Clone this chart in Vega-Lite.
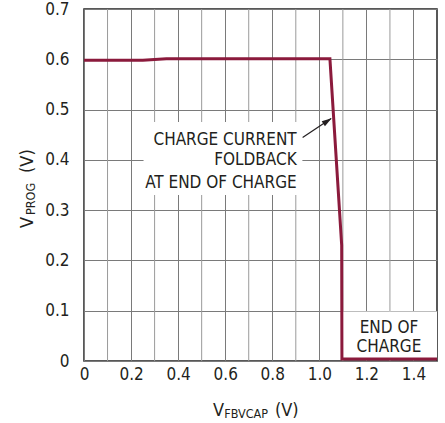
{
  "$schema": "https://vega.github.io/schema/vega-lite/v6.json",
  "width": 353,
  "height": 352,
  "autosize": {"type": "none"},
  "padding": {"left": 84, "top": 9, "right": 8, "bottom": 62},
  "background": "white",
  "config": {
    "view": {"stroke": "#222222", "strokeWidth": 1.5},
    "font": "DejaVu Sans Condensed, sans-serif",
    "text": {"font": "DejaVu Sans Condensed, sans-serif", "color": "#231f20"},
    "axis": {
      "labelFont": "DejaVu Sans Condensed, sans-serif",
      "labelFontSize": 17,
      "labelColor": "#231f20",
      "domain": false,
      "ticks": false,
      "grid": true,
      "gridColor": "#7a7a7a",
      "gridOpacity": 1,
      "gridWidth": 1
    }
  },
  "layer": [
    {
      "data": {"values": [
        {"x": 0.1}, {"x": 0.3}, {"x": 0.5}, {"x": 0.7}, {"x": 0.9}, {"x": 1.1}, {"x": 1.3}
      ]},
      "mark": {"type": "rule", "color": "#9a9a9a", "strokeWidth": 1},
      "encoding": {
        "x": {
          "field": "x", "type": "quantitative", "title": null,
          "scale": {"domain": [0, 1.5], "nice": false, "zero": false},
          "axis": {
            "values": [0, 0.1, 0.2, 0.3, 0.4, 0.5, 0.6, 0.7, 0.8, 0.9, 1.0, 1.1, 1.2, 1.3, 1.4, 1.5],
            "labelExpr": "datum.value == 0 ? '0' : (round(datum.value * 10) % 2 == 0 && datum.value < 1.45 ? format(datum.value, '.1f') : '')",
            "labelPadding": 5,
            "labelFlush": false,
            "labelOverlap": false
          }
        }
      }
    },
    {
      "data": {"values": [
        {"x": 0.253, "x2": 0.928, "y": 0.330, "y2": 0.4755},
        {"x": 1.1, "x2": 1.5, "y": 0.006, "y2": 0.0985}
      ]},
      "mark": {"type": "rect", "fill": "white", "stroke": null},
      "encoding": {
        "x": {"field": "x", "type": "quantitative", "title": null},
        "x2": {"field": "x2"},
        "y": {
          "field": "y", "type": "quantitative", "title": null,
          "scale": {"domain": [0, 0.7], "nice": false, "zero": false},
          "axis": {
            "values": [0, 0.1, 0.2, 0.3, 0.4, 0.5, 0.6, 0.7],
            "labelExpr": "datum.value == 0 ? '0' : format(datum.value, '.1f')",
            "labelPadding": 15,
            "labelFlush": false,
            "labelOverlap": false
          }
        },
        "y2": {"field": "y2"}
      }
    },
    {
      "data": {"values": [
        {"i": 0, "x": 0.0, "y": 0.598},
        {"i": 1, "x": 0.25, "y": 0.598},
        {"i": 2, "x": 0.35, "y": 0.601},
        {"i": 3, "x": 1.045, "y": 0.601},
        {"i": 4, "x": 1.095, "y": 0.23},
        {"i": 5, "x": 1.096, "y": 0.004},
        {"i": 6, "x": 1.5, "y": 0.004}
      ]},
      "mark": {"type": "line", "color": "#8b1a3c", "strokeWidth": 3, "strokeJoin": "miter"},
      "encoding": {
        "x": {"field": "x", "type": "quantitative", "title": null},
        "y": {"field": "y", "type": "quantitative", "title": null},
        "order": {"field": "i"}
      }
    },
    {
      "data": {"values": [
        {"x": 0.929, "y": 0.4445, "x2": 1.05, "y2": 0.482}
      ]},
      "mark": {"type": "rule", "color": "#231f20", "strokeWidth": 1.2},
      "encoding": {
        "x": {"field": "x", "type": "quantitative", "title": null},
        "y": {"field": "y", "type": "quantitative", "title": null},
        "x2": {"field": "x2"},
        "y2": {"field": "y2"}
      }
    },
    {
      "data": {"values": [
        {"x": 1.0347, "y": 0.4773}
      ]},
      "mark": {"type": "point", "shape": "M1,0L-1,-0.6L-1,0.6Z", "filled": true, "color": "#231f20", "opacity": 1, "size": 100, "angle": 327},
      "encoding": {
        "x": {"field": "x", "type": "quantitative", "title": null},
        "y": {"field": "y", "type": "quantitative", "title": null}
      }
    },
    {
      "data": {"values": [
        {"x": 0.9038, "y": 0.4295, "t": "CHARGE CURRENT"},
        {"x": 0.9038, "y": 0.3898, "t": "FOLDBACK"},
        {"x": 0.9038, "y": 0.3446, "t": "AT END OF CHARGE"}
      ]},
      "mark": {"type": "text", "align": "right", "baseline": "alphabetic", "fontSize": 17},
      "encoding": {
        "x": {"field": "x", "type": "quantitative", "title": null},
        "y": {"field": "y", "type": "quantitative", "title": null},
        "text": {"field": "t"}
      }
    },
    {
      "data": {"values": [
        {"x": 1.296, "y": 0.0551, "t": "END OF"},
        {"x": 1.296, "y": 0.0185, "t": "CHARGE"}
      ]},
      "mark": {"type": "text", "align": "center", "baseline": "alphabetic", "fontSize": 17},
      "encoding": {
        "x": {"field": "x", "type": "quantitative", "title": null},
        "y": {"field": "y", "type": "quantitative", "title": null},
        "text": {"field": "t"}
      }
    },
    {
      "data": {"values": [
        {"x": 0.548, "y": -0.1094, "t": "V"},
        {"x": 0.8115, "y": -0.1094, "t": "(V)"}
      ]},
      "mark": {"type": "text", "align": "left", "baseline": "alphabetic", "fontSize": 18},
      "encoding": {
        "x": {"field": "x", "type": "quantitative", "title": null},
        "y": {"field": "y", "type": "quantitative", "title": null},
        "text": {"field": "t"}
      }
    },
    {
      "data": {"values": [
        {"x": 0.596, "y": -0.1133, "t": "FBVCAP"}
      ]},
      "mark": {"type": "text", "align": "left", "baseline": "alphabetic", "fontSize": 12.5},
      "encoding": {
        "x": {"field": "x", "type": "quantitative", "title": null},
        "y": {"field": "y", "type": "quantitative", "title": null},
        "text": {"field": "t"}
      }
    },
    {
      "data": {"values": [
        {"x": -0.2167, "y": 0.2645, "t": "V"},
        {"x": -0.2167, "y": 0.3739, "t": "(V)"}
      ]},
      "mark": {"type": "text", "align": "left", "baseline": "alphabetic", "fontSize": 18, "angle": 270},
      "encoding": {
        "x": {"field": "x", "type": "quantitative", "title": null},
        "y": {"field": "y", "type": "quantitative", "title": null},
        "text": {"field": "t"}
      }
    },
    {
      "data": {"values": [
        {"x": -0.2082, "y": 0.2903, "t": "PROG"}
      ]},
      "mark": {"type": "text", "align": "left", "baseline": "alphabetic", "fontSize": 12.5, "angle": 270},
      "encoding": {
        "x": {"field": "x", "type": "quantitative", "title": null},
        "y": {"field": "y", "type": "quantitative", "title": null},
        "text": {"field": "t"}
      }
    }
  ]
}
